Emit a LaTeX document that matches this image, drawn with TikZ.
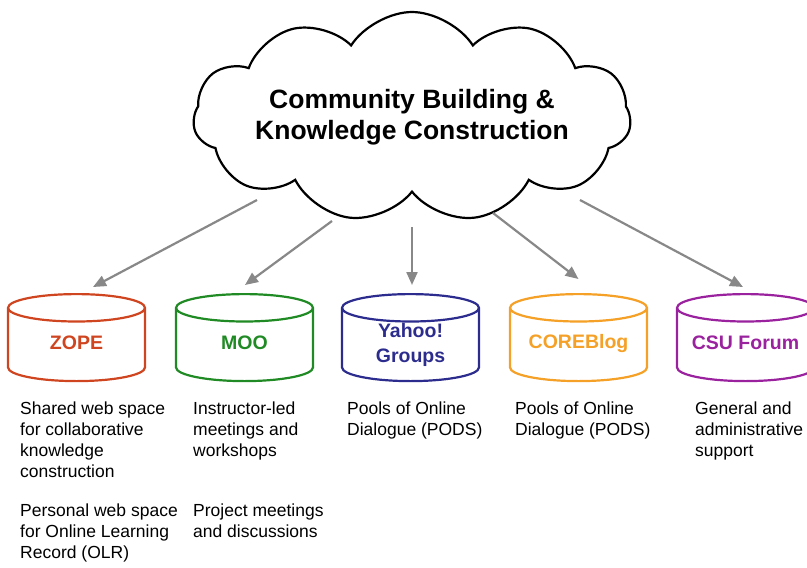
\documentclass[tikz,border=0pt]{standalone}
\usepackage{fontspec}
\setmainfont{Liberation Sans}
\usepackage{xcolor}
\usepackage{tikz}
\usetikzlibrary{arrows.meta, positioning, shapes.geometric, shapes.symbols}

\definecolor{zopecol}{HTML}{CF4520}
\definecolor{moocol}{HTML}{208A24}
\definecolor{yahoocol}{HTML}{2C2C8E}
\definecolor{blogcol}{HTML}{F5A027}
\definecolor{forumcol}{HTML}{9A229E}
\definecolor{feedcol}{HTML}{888888}

\begin{document}
\begin{tikzpicture}[x=1pt, y=-1pt,
	store/.style={cylinder, shape border rotate=90, draw, line width=2.2pt, aspect=0.2, minimum height=87pt, inner xsep=68.5pt, inner ysep=0pt, anchor=north},
	storename/.style={font=\fontsize{19.5}{25}\selectfont\bfseries, align=center, inner sep=0pt},
	note/.style={font=\fontsize{17.5}{21}\selectfont, align=left, anchor=north west, inner sep=0pt},
	feed/.style={draw=feedcol, line width=2.2pt, -{Triangle[length=13pt, width=11pt]}}]
	\useasboundingbox (0, 0) rectangle (807, 568);
	% Cloud:
	\node[cloud, draw, line width=2.2pt, cloud puffs=11, cloud puff arc=115, cloud ignores aspect, minimum width=426pt, minimum height=210pt, inner sep=0pt, font=\fontsize{26.5}{31}\selectfont\bfseries, align=center](cloud) at (412, 117){Community Building \&\\Knowledge Construction};
	\coordinate (out1) at (257, 200);
	\coordinate (out2) at (332, 221);
	\coordinate (out3) at (412, 227);
	\coordinate (out4) at (493, 213);
	\coordinate (out5) at (580, 200);
	% Stores:
	\node[store, draw=zopecol](zope) at (76.5, 293){};
	\node[store, draw=moocol](moo) at (244.5, 293){};
	\node[store, draw=yahoocol](yahoo) at (410.5, 293){};
	\node[store, draw=blogcol](blog) at (578.5, 293){};
	\node[store, draw=forumcol](forum) at (745.5, 293){};
	\node[storename, text=zopecol](zopename) at ([yshift=-50pt]zope.north){ZOPE};
	\node[storename, text=moocol](mooname) at ([yshift=-50pt]moo.north){MOO};
	\node[storename, text=yahoocol](yahooname) at ([yshift=-52pt]yahoo.north){Yahoo!\\Groups};
	\node[storename, text=blogcol](blogname) at ([yshift=-50pt]blog.north){COREBlog};
	\node[storename, text=forumcol](forumname) at ([yshift=-50pt]forum.north){CSU Forum};
	% Arrows:
	\draw[feed] (out1) -- ([xshift=16.5pt, yshift=6pt]zope.north);
	\draw[feed] (out2) -- ([xshift=0.5pt, yshift=8pt]moo.north);
	\draw[feed] (out3) -- ([xshift=1.5pt, yshift=8pt]yahoo.north);
	\draw[feed] (out4) -- ([yshift=14pt]blog.north);
	\draw[feed] (out5) -- ([xshift=-2.5pt, yshift=6pt]forum.north);
	% Notes:
	\node[note](zopenote) at (20, 402){Shared web space\\for collaborative\\knowledge\\construction\\[18pt]Personal web space\\for Online Learning\\Record (OLR)};
	\node[note](moonote) at (193, 402){Instructor-led\\meetings and\\workshops\\[39pt]Project meetings\\and discussions};
	\node[note](yahoonote) at (347, 402){Pools of Online\\Dialogue (PODS)};
	\node[note](blognote) at (515, 402){Pools of Online\\Dialogue (PODS)};
	\node[note](forumnote) at (695, 402){General and\\administrative\\support};
\end{tikzpicture}
\end{document}
